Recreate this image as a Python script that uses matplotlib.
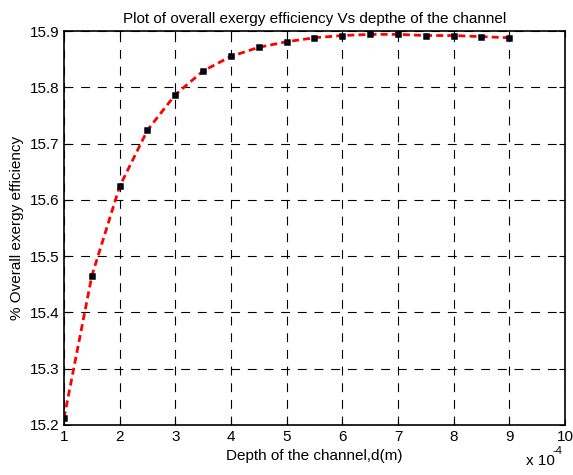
import matplotlib
matplotlib.use("Agg")
import matplotlib.pyplot as plt

plt.rcParams['font.family'] = ['Liberation Sans', 'DejaVu Sans']

# depth of the channel (x 10^-4 m) and overall exergy efficiency (%)
depth = [1, 1.5, 2, 2.5, 3, 3.5, 4, 4.5, 5, 5.5, 6, 6.5, 7, 7.5, 8, 8.5, 9]
eff = [15.212, 15.465, 15.624, 15.724, 15.787, 15.829, 15.855, 15.871, 15.881,
       15.888, 15.892, 15.894, 15.894, 15.892, 15.892, 15.890, 15.888]
xticks = [1, 2, 3, 4, 5, 6, 7, 8, 9, 10]
yticks = [15.2, 15.3, 15.4, 15.5, 15.6, 15.7, 15.8, 15.9]

fig = plt.figure(figsize=(5.73, 4.75), dpi=100)
ax = fig.add_axes([0.1117, 0.1053, 0.8743, 0.8294])

ax.plot(depth, eff, color='red', linestyle='--', linewidth=2, dashes=(2.5, 1.5))
ax.plot(depth, eff, linestyle='none', marker='s', markersize=3.5,
        markerfacecolor='blue', markeredgecolor='black', markeredgewidth=1.8)

ax.set_xlim(1, 10)
ax.set_ylim(15.2, 15.9)
ax.set_xticks(xticks)
ax.set_yticks(yticks)
ax.set_yticklabels(['%.1f' % v for v in yticks])
ax.grid(True, color='black', linestyle=(0, (8, 7)), linewidth=0.8)
ax.tick_params(direction='in', top=True, right=True, labelsize=11, length=4)
for s in ax.spines.values():
    s.set_linewidth(1.2)

ax.set_title('Plot of overall exergy efficiency Vs depthe of the channel', fontsize=11)
ax.set_xlabel('Depth of the channel,d(m)', fontsize=11)
ax.set_ylabel('% Overall exergy efficiency', fontsize=11)
fig.text(0.918, 0.022, 'x 10', fontsize=11)
fig.text(0.965, 0.045, '-4', fontsize=8)

fig.savefig('out.png', dpi=100)
